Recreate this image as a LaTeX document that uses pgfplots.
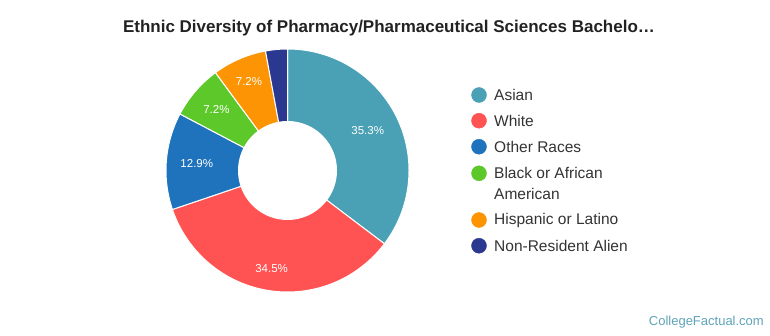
\documentclass[border=0pt]{standalone}
\usepackage{pgfplots}
\pgfplotsset{compat=1.18}
\usepackage{fontspec}
\setmainfont{Liberation Sans}
\definecolor{cAsian}{HTML}{4AA0B4}
\definecolor{cWhite}{HTML}{FF5252}
\definecolor{cOther}{HTML}{1F72BC}
\definecolor{cBlack}{HTML}{5DC82A}
\definecolor{cHisp}{HTML}{FC9403}
\definecolor{cNRA}{HTML}{2B388F}
\definecolor{ctitle}{HTML}{222222}
\definecolor{ctext}{HTML}{333333}
\definecolor{cbrand}{HTML}{5FA3B8}
% donut geometry (axis units = pt)
\def\cx{287.5}\def\cy{164.5}\def\R{121.5}\def\r{49.5}
% #1 cumulative start (%), #2 value (%), #3 colour, #4 label radius, #5 show label (1/0)
\newcommand{\slice}[5]{%
  \pgfmathsetmacro\aS{90-3.6*#1}%
  \pgfmathsetmacro\aE{90-3.6*(#1+#2)}%
  \pgfmathsetmacro\aM{90-3.6*(#1+#2/2)}%
  \pgfmathsetmacro\lx{\cx+#4*cos(\aM)}%
  \pgfmathsetmacro\ly{\cy+#4*sin(\aM)}%
  \edef\doslice{\noexpand\addplot[fill=#3, draw=white, line width=1pt, domain=\aE:\aS, samples=90, variable=\noexpand\t]
    ({\cx+\R*cos(\noexpand\t)},{\cy+\R*sin(\noexpand\t)}) -- (axis cs:\cx,\cy) -- cycle;}%
  \doslice
  \ifnum#5=1
    \edef\dolabel{\noexpand\node[text=white, font=\noexpand\fontsize{11.5}{13}\noexpand\selectfont] at (axis cs:\lx,\ly) {#2\noexpand\%};}%
    \dolabel
  \fi
}
\begin{document}
\begin{tikzpicture}
\useasboundingbox (0,0) rectangle (770pt,335pt);
\begin{axis}[
  scale only axis, width=770pt, height=335pt,
  xmin=0, xmax=770, ymin=0, ymax=335,
  hide axis, clip=false, anchor=south west, at={(0,0)}
]
% slices: start, value
\slice{0}{35.3}{cAsian}{89.6}{1}
\slice{35.3}{34.5}{cWhite}{99.7}{1}
\slice{69.8}{12.9}{cOther}{91}{1}
\slice{82.7}{7.2}{cBlack}{93.7}{1}
\slice{89.9}{7.2}{cHisp}{97}{1}
\slice{97.1}{2.9}{cNRA}{95}{0}
% inner hole
\addplot[fill=white, draw=none, domain=0:360, samples=120, variable=\t] ({\cx+\r*cos(\t)},{\cy+\r*sin(\t)}) -- cycle;
% legend markers
\addplot[only marks, mark=*, mark size=7.5pt, color=cAsian] coordinates {(479,240)};
\addplot[only marks, mark=*, mark size=7.5pt, color=cWhite] coordinates {(479,214.3)};
\addplot[only marks, mark=*, mark size=7.5pt, color=cOther] coordinates {(479,188.3)};
\addplot[only marks, mark=*, mark size=7.5pt, color=cBlack] coordinates {(479,161.7)};
\addplot[only marks, mark=*, mark size=7.5pt, color=cHisp] coordinates {(479,115)};
\addplot[only marks, mark=*, mark size=7.5pt, color=cNRA] coordinates {(479,89.3)};
\begin{scope}[every node/.style={anchor=west, inner sep=0pt, text=ctext, font=\fontsize{15.5}{20.5}\selectfont}]
\node at (axis cs:494,240) {Asian};
\node at (axis cs:494,214.3) {White};
\node at (axis cs:494,188.3) {Other Races};
\node at (axis cs:494,161.7) {Black or African};
\node at (axis cs:494,141.5) {American};
\node at (axis cs:494,115) {Hispanic or Latino};
\node at (axis cs:494,89.3) {Non-Resident Alien};
\end{scope}
\node[anchor=base, text=ctitle, font=\fontsize{17}{20}\selectfont\bfseries, inner sep=0pt] at (axis cs:389,302) {Ethnic Diversity of Pharmacy/Pharmaceutical Sciences Bachelo\ldots};
\node[anchor=base east, text=cbrand, font=\fontsize{13}{15}\selectfont, inner sep=0pt] at (axis cs:764,10) {CollegeFactual.com};
\end{axis}
\end{tikzpicture}
\end{document}
